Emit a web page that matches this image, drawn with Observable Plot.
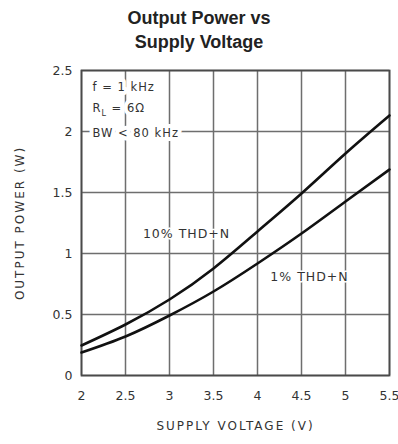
<!DOCTYPE html>
<html>
<head>
<meta charset="utf-8">
<script src="https://cdn.jsdelivr.net/npm/d3@7"></script>
<script src="https://cdn.jsdelivr.net/npm/@observablehq/plot@0.6"></script>
<style>
  html, body { margin: 0; padding: 0; background: #fff; }
  #title { width: 398px; height: 56px; box-sizing: border-box; padding-top: 6px;
    font-family: "Liberation Sans", Arial, sans-serif; font-weight: bold; font-size: 18px;
    line-height: 24px; text-align: center; color: #222; }
  #chart svg { display: block; }
</style>
</head>
<body>
<div id="title">Output Power vs<br>Supply Voltage</div>
<div id="chart"></div>
<script>
const voltage = [2, 2.5, 3, 3.5, 4, 4.5, 5, 5.5];
const thd10 = [0.245, 0.42, 0.62, 0.88, 1.18, 1.49, 1.82, 2.13];
const thd1 = [0.19, 0.32, 0.49, 0.69, 0.92, 1.16, 1.43, 1.69];
const xTicks = [2, 2.5, 3, 3.5, 4, 4.5, 5, 5.5];
const yTicks = [0, 0.5, 1, 1.5, 2, 2.5];
const seriesLabels = [
  {text: "10% THD+N", x: 3.19, y: 1.16},
  {text: "1% THD+N", x: 4.59, y: 0.81}
];
const conditions = [
  {text: "f = 1 kHz", x: 2.125, y: 2.36},
  {text: "R_L = 6Ω", x: 2.125, y: 2.19},
  {text: "BW < 80 kHz", x: 2.125, y: 1.98}
];

const rows10 = voltage.map((v, i) => ({v, p: thd10[i]}));
const rows1 = voltage.map((v, i) => ({v, p: thd1[i]}));

const font = "'DejaVu Sans', sans-serif";
const plot = Plot.plot({
  width: 398,
  height: 388,
  marginTop: 14,
  marginBottom: 69,
  marginLeft: 81,
  marginRight: 9,
  style: {fontFamily: font, fontSize: "12px", color: "#333", background: "#fff"},
  x: {domain: [2, 5.5], label: null, round: true},
  y: {domain: [0, 2.5], label: null, round: true},
  marks: [
    Plot.ruleX(xTicks, {x: d => d, stroke: "#6e6e6e", strokeWidth: 1.5}),
    Plot.ruleY(yTicks, {y: d => d, stroke: "#6e6e6e", strokeWidth: 1.5}),
    Plot.frame({stroke: "#4a4a4a", strokeWidth: 1.8}),
    Plot.axisX(xTicks, {tickSize: 0, tickPadding: 16, tickFormat: d => String(d), label: null, fontSize: 12.5}),
    Plot.axisY(yTicks, {tickSize: 0, tickPadding: 9, tickFormat: d => String(d), label: null, fontSize: 12.5}),
    Plot.text(conditions, {x: "x", y: "y", text: "text", textAnchor: "start", fill: "#fff",
      stroke: "#fff", strokeWidth: 8, fontSize: 11.5, className: "cond", ariaHidden: true}),
    Plot.text(conditions, {x: "x", y: "y", text: "text", textAnchor: "start", fill: "#333",
      fontSize: 11.5, className: "cond"}),
    Plot.line(rows10, {x: "v", y: "p", curve: "natural", stroke: "#111", strokeWidth: 2.6}),
    Plot.line(rows1, {x: "v", y: "p", curve: "natural", stroke: "#111", strokeWidth: 2.6}),
    Plot.text(seriesLabels, {x: "x", y: "y", text: "text", fill: "#333", fontSize: 12.5,
      stroke: "#fff", strokeWidth: 3, className: "slab"}),
    Plot.text(["SUPPLY VOLTAGE (V)"], {frameAnchor: "bottom", dy: 54, text: d => d, fontSize: 12, fill: "#333", className: "xlab"}),
    Plot.text(["OUTPUT POWER (W)"], {frameAnchor: "left", textAnchor: "middle", dx: -61, rotate: -90, text: d => d, fontSize: 12, fill: "#333", className: "ylab"})
  ]
});
document.getElementById("chart").appendChild(plot);

d3.select(plot).selectAll(".slab text, .cond text").style("letter-spacing", "1px");
d3.select(plot).selectAll(".xlab text, .ylab text").style("letter-spacing", "2px");
d3.select(plot).selectAll(".cond text").each(function() {
  if (this.textContent === "R_L = 6Ω") {
    const t = d3.select(this);
    t.text("");
    t.append("tspan").text("R");
    t.append("tspan").attr("dy", "4").style("font-size", "8px").text("L");
    t.append("tspan").attr("dy", "-4").text(" = 6Ω");
  }
});
</script>
</body>
</html>
